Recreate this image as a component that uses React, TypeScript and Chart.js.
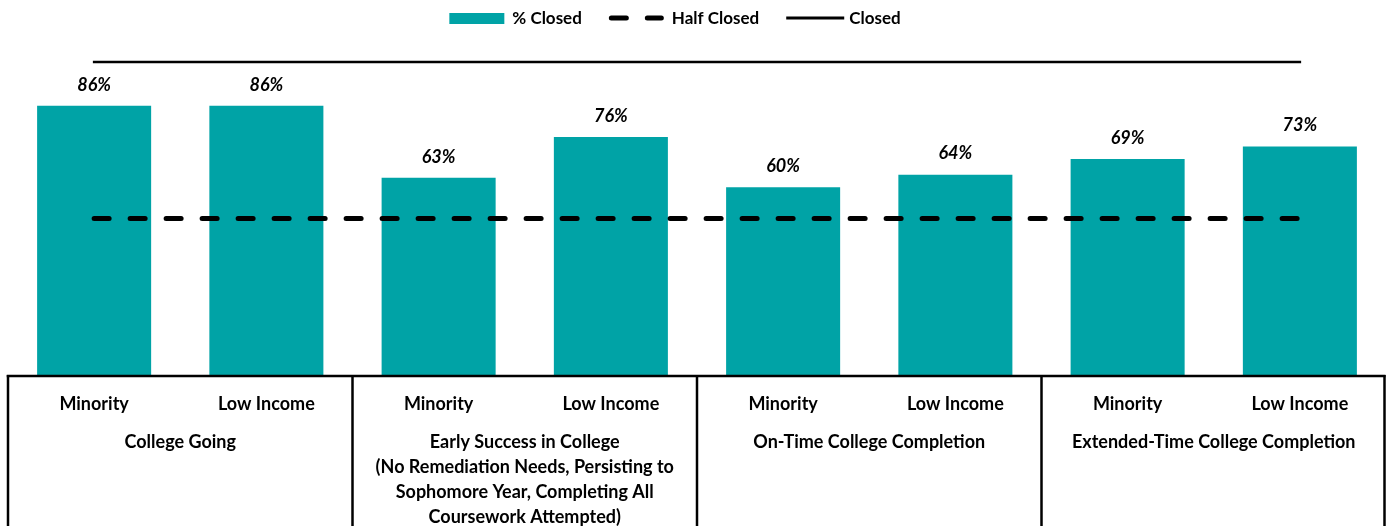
import React, { useEffect, useRef } from "react";
import { Chart, registerables } from "chart.js";

Chart.register(...registerables);

const categories = [
  "Minority", "Low Income",
  "Minority", "Low Income",
  "Minority", "Low Income",
  "Minority", "Low Income",
];
const groupLabels: string[][] = [
  ["College Going"],
  ["Early Success in College", "(No Remediation Needs, Persisting to", "Sophomore Year, Completing All", "Coursework Attempted)"],
  ["On-Time College Completion"],
  ["Extended-Time College Completion"],
];
const pctClosed = [86, 86, 63, 76, 60, 64, 69, 73];
const halfClosed = [50, 50, 50, 50, 50, 50, 50, 50];
const closed = [100, 100, 100, 100, 100, 100, 100, 100];
const legendLabels = ["% Closed", "Half Closed", "Closed"];

const TEAL = "#00A3A6";
const FONT = "Lato";

const W = 1391;
const H = 526;

const legendPlugin = {
  id: "customLegend",
  afterDraw(chart: any) {
    const ctx = chart.ctx;
    ctx.save();
    ctx.font = `bold 17px ${FONT}`;
    ctx.textBaseline = "middle";
    ctx.textAlign = "left";
    const boxW = 55;
    const gapText = 8;
    const gapItem = 27;
    const widths = legendLabels.map((t) => ctx.measureText(t).width);
    const total = widths.reduce((a, b) => a + b, 0) + 3 * (boxW + gapText) + 2 * gapItem;
    let x = 675 - total / 2;
    const y = 18;
    legendLabels.forEach((t, i) => {
      if (i === 0) {
        ctx.fillStyle = TEAL;
        ctx.fillRect(x, 13, boxW, 11);
      } else if (i === 1) {
        ctx.strokeStyle = "#000";
        ctx.lineWidth = 5;
        ctx.lineCap = "round";
        ctx.setLineDash([15, 21]);
        ctx.beginPath();
        ctx.moveTo(x + 2.5, y);
        ctx.lineTo(x + boxW - 2.5, y);
        ctx.stroke();
        ctx.setLineDash([]);
      } else {
        ctx.strokeStyle = "#000";
        ctx.lineWidth = 3;
        ctx.lineCap = "butt";
        ctx.beginPath();
        ctx.moveTo(x, y);
        ctx.lineTo(x + boxW + 3, y);
        ctx.stroke();
      }
      ctx.fillStyle = "#000";
      ctx.fillText(t, x + boxW + gapText, y + 1);
      x += boxW + gapText + widths[i] + gapItem;
    });
    ctx.restore();
  },
};

const valueLabelPlugin = {
  id: "valueLabels",
  afterDatasetsDraw(chart: any) {
    const ctx = chart.ctx;
    const meta = chart.getDatasetMeta(0);
    ctx.save();
    ctx.font = `italic bold 18px ${FONT}`;
    ctx.fillStyle = "#000";
    ctx.textAlign = "center";
    ctx.textBaseline = "middle";
    meta.data.forEach((el: any, i: number) => {
      ctx.fillText(`${pctClosed[i]}%`, el.x, el.y - 21);
    });
    ctx.restore();
  },
};

const axisPlugin = {
  id: "groupAxis",
  afterDraw(chart: any) {
    const ctx = chart.ctx;
    const xs = chart.scales.x;
    const area = chart.chartArea;
    const bottom = area.bottom;
    const centers = categories.map((_, i) => xs.getPixelForValue(i));
    const step = centers[1] - centers[0];
    ctx.save();
    ctx.strokeStyle = "#000";
    ctx.lineWidth = 2.5;
    ctx.lineCap = "butt";
    ctx.beginPath();
    ctx.moveTo(centers[0] - step / 2 - 1.25, bottom + 1);
    ctx.lineTo(centers[7] + step / 2 - 0.5, bottom + 1);
    ctx.stroke();
    for (let g = 0; g <= 4; g++) {
      let x = centers[0] - step / 2 + g * 2 * step;
      if (g === 4) x -= 1.5;
      ctx.beginPath();
      ctx.moveTo(x, bottom);
      ctx.lineTo(x, H);
      ctx.stroke();
    }
    ctx.fillStyle = "#000";
    ctx.textAlign = "center";
    ctx.textBaseline = "middle";
    ctx.font = `bold 18px ${FONT}`;
    categories.forEach((c, i) => {
      ctx.fillText(c, centers[i], bottom + 29);
    });
    groupLabels.forEach((lines, g) => {
      const cx = (centers[2 * g] + centers[2 * g + 1]) / 2;
      lines.forEach((ln, k) => {
        ctx.fillText(ln, cx, bottom + 67 + k * 25);
      });
    });
    ctx.restore();
  },
};

export default function App() {
  const ref = useRef<HTMLCanvasElement | null>(null);
  useEffect(() => {
    if (!ref.current) return;
    const chart = new Chart(ref.current, {
      type: "bar",
      data: {
        labels: categories,
        datasets: [
          {
            type: "bar",
            label: legendLabels[0],
            data: pctClosed,
            backgroundColor: TEAL,
            barPercentage: 0.662,
            categoryPercentage: 1,
            order: 3,
          },
          {
            type: "line",
            label: legendLabels[1],
            data: halfClosed,
            borderColor: "#000",
            borderWidth: 5,
            borderDash: [15, 21],
            borderCapStyle: "round",
            pointRadius: 0,
            fill: false,
            clip: false,
            order: 1,
          } as any,
          {
            type: "line",
            label: legendLabels[2],
            data: closed,
            borderColor: "#000",
            borderWidth: 2.5,
            borderCapStyle: "square",
            pointRadius: 0,
            fill: false,
            clip: false,
            order: 2,
          } as any,
        ],
      },
      options: {
        responsive: false,
        animation: false,
        devicePixelRatio: 1,
        layout: { padding: { left: 8, right: 5, top: 62, bottom: 151 } },
        plugins: {
          legend: { display: false },
          tooltip: { enabled: false },
        },
        scales: {
          x: { display: false, offset: true, grid: { display: false } },
          y: { display: false, min: 0, max: 100 },
        },
      },
      plugins: [valueLabelPlugin, axisPlugin, legendPlugin],
    });
    return () => chart.destroy();
  }, []);
  return (
    <div style={{ position: "absolute", left: 0, top: 0, width: W, height: H, background: "#fff" }}>
      <canvas ref={ref} width={W} height={H} style={{ width: W, height: H, display: "block" }} />
    </div>
  );
}
